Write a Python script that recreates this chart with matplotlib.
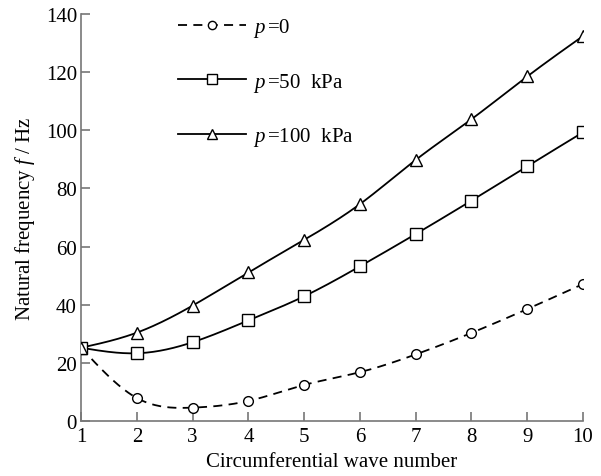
import numpy as np
import matplotlib
matplotlib.use("Agg")
import matplotlib.pyplot as plt

plt.rcParams['font.family'] = ['Liberation Serif', 'DejaVu Serif']
plt.rcParams['mathtext.fontset'] = 'custom'
plt.rcParams['mathtext.rm'] = 'Liberation Serif'
plt.rcParams['mathtext.it'] = 'Liberation Serif:italic'

wave_number = [1, 2, 3, 4, 5, 6, 7, 8, 9, 10]
f_p0 = [25.2, 7.9, 4.6, 6.9, 12.4, 16.8, 22.9, 30.3, 38.5, 47.1]
f_p50 = [25.2, 23.3, 27.1, 34.6, 42.9, 53.2, 64.3, 75.8, 87.6, 99.3]
f_p100 = [25.2, 30.4, 39.7, 51.1, 62.3, 74.6, 89.8, 103.8, 118.5, 132.4]
labels = [r'$p\,$=0', r'$p\,$=50  kPa', r'$p\,$=100  kPa']


def natural_spline(x, y, n=300):
    x = np.asarray(x, float)
    y = np.asarray(y, float)
    k = len(x)
    h = np.diff(x)
    A = np.zeros((k, k))
    b = np.zeros(k)
    A[0, 0] = A[-1, -1] = 1
    for i in range(1, k - 1):
        A[i, i - 1] = h[i - 1]
        A[i, i] = 2 * (h[i - 1] + h[i])
        A[i, i + 1] = h[i]
        b[i] = 6 * ((y[i + 1] - y[i]) / h[i] - (y[i] - y[i - 1]) / h[i - 1])
    M = np.linalg.solve(A, b)
    xs = np.linspace(x[0], x[-1], n)
    ys = np.empty_like(xs)
    for j, xv in enumerate(xs):
        i = min(np.searchsorted(x, xv, side='right') - 1, k - 2)
        t0 = x[i + 1] - xv
        t1 = xv - x[i]
        ys[j] = (M[i] * t0 ** 3 / (6 * h[i]) + M[i + 1] * t1 ** 3 / (6 * h[i])
                 + (y[i] / h[i] - M[i] * h[i] / 6) * t0
                 + (y[i + 1] / h[i] - M[i + 1] * h[i] / 6) * t1)
    return xs, ys


fig = plt.figure(figsize=(6.01, 4.77), dpi=100)
ax = fig.add_axes([0.135, 0.1153, 0.835, 0.8533])

styles = [
    dict(marker='o', ms=7, ls=(0, (5, 3.5))),
    dict(marker='s', ms=8, ls='-'),
    dict(marker='^', ms=8, ls='-'),
]
for ys, lab, st in zip([f_p0, f_p50, f_p100], labels, styles):
    xs_s, ys_s = natural_spline(wave_number, ys)
    ax.plot(xs_s, ys_s, color='black', lw=1.3, ls=st['ls'], zorder=2)
    ax.plot(wave_number, ys, ls='none', marker=st['marker'], ms=st['ms'],
            mfc='white', mec='black', mew=1.0, zorder=3)
    ax.plot([], [], color='black', lw=1.3, ls=st['ls'], marker=st['marker'],
            ms=st['ms'], mfc='white', mec='black', mew=1.0, label=lab)

ax.set_xlim(1, 10)
ax.set_ylim(0, 140)
ax.set_xticks(range(1, 11))
ax.set_yticks(range(0, 141, 20))
for s in ['top', 'right']:
    ax.spines[s].set_visible(False)
for s in ['left', 'bottom']:
    ax.spines[s].set_color('#777777')
    ax.spines[s].set_linewidth(1.2)
ax.tick_params(direction='in', length=6.5, width=1.2, color='#777777',
               labelsize=15)
ax.tick_params(axis='x', pad=4.5)
ax.tick_params(axis='y', pad=3)
ax.set_xlabel('Circumferential wave number', fontsize=15, labelpad=4)
ax.set_ylabel('Natural frequency $f$ / Hz', fontsize=15, labelpad=6)

leg = ax.legend(loc='upper left', bbox_to_anchor=(0.155, 1.04), frameon=False,
                fontsize=15, handlelength=3.3, labelspacing=1.5,
                handletextpad=0.3, markerscale=0.85)

fig.savefig('out.png', dpi=100)
